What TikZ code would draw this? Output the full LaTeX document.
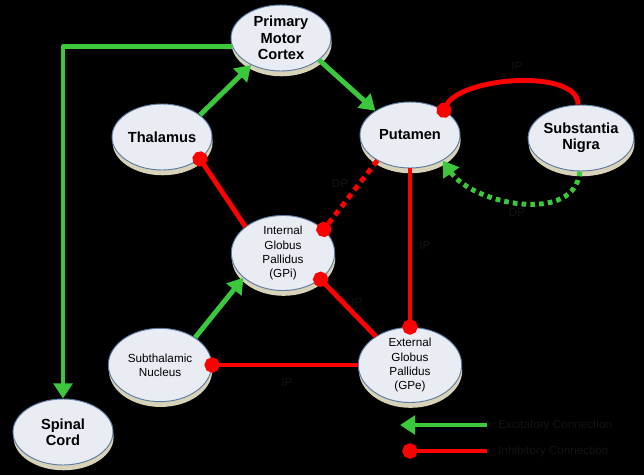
\documentclass[tikz,border=0pt]{standalone}
\usepackage{fontspec}
\setmainfont{Liberation Sans}
\usetikzlibrary{shapes.geometric,arrows.meta,shadows}
\definecolor{exgreen}{HTML}{3CC83C}
\definecolor{inred}{HTML}{FF0000}
\definecolor{nodefill}{HTML}{E9ECF2}
\definecolor{nodeline}{HTML}{5B7BA5}
\definecolor{nodebase}{HTML}{D8D3B8}
\definecolor{faint}{HTML}{141414}
\begin{document}
\begin{tikzpicture}[x=0.03cm, y=-0.03cm, line join=round,
  area/.style={ellipse, draw=nodeline, line width=0.8pt, fill=nodefill, inner sep=0pt, align=center, text=black,
    drop shadow={shadow xshift=0.5pt, shadow yshift=-4.5pt, fill=nodebase, opacity=1}},
  big/.style={area, minimum width=3cm, minimum height=1.98cm, font=\fontsize{12.5}{14}\selectfont\bfseries},
  small/.style={area, minimum width=3.1cm, minimum height=2.2cm, font=\fontsize{10}{12}\selectfont},
  excit/.style={draw=exgreen, line width=4.2pt, -{Triangle[length=13pt,width=16pt]}},
  inhib/.style={draw=inred, line width=4.2pt, -{Circle[length=13pt]}, shorten >=-6.5pt},
  tag/.style={text=faint, font=\fontsize{10}{12}\selectfont}]
\path[use as bounding box, fill=black] (0,0) rectangle (644,475);
% areas
\node[big] (pmc) at (281,38) {Primary\\Motor\\Cortex};
\node[big] (thal) at (162,137) {Thalamus};
\node[big] (put) at (410,135) {Putamen};
\node[big] (sn) at (581,138) {Substantia\\Nigra};
\node[small] (gpi) at (283,253) {Internal\\Globus\\Pallidus\\(GPi)};
\node[small] (stn) at (160,365) {Subthalamic\\Nucleus};
\node[small] (gpe) at (410,365) {External\\Globus\\Pallidus\\(GPe)};
\node[big] (spc) at (63,432) {Spinal\\Cord};
% excitatory
\draw[excit] (pmc.190) -| (spc.north);
\draw[excit] (thal.30) -- (pmc.222);
\draw[excit] (pmc.-30) -- (put.145);
\draw[excit] (stn.38) -- (gpi.212);
\draw[excit, dash pattern=on 4pt off 3.5pt] (sn.268) to[out=-95, in=-55] (put.-38);
% inhibitory
\draw[inhib] (gpi.145) -- (thal.-30);
\draw[inhib, dash pattern=on 5pt off 4pt] (put.218) -- (gpi.30);
\draw[inhib] (gpe.140) -- (gpi.-35);
\draw[inhib] (put.south) -- (gpe.north);
\draw[inhib] (gpe.west) -- (stn.east);
\draw[inhib] (sn.95) to[out=90, in=65, looseness=0.7] (put.36);
% pathway tags
\node[tag] (tsn) at (517,66) {IP};
\node[tag] (tdp) at (517,212) {DP};
\node[tag] (tgpi) at (340,183) {DP};
\node[tag] (tput) at (425,245) {IP};
\node[tag] (tgpe) at (357,302) {IP};
\node[tag] (tstn) at (287,382) {IP};
% legend
\node[tag, anchor=west] (exlab) at (494,425) {Excitatory Connection};
\node[tag, anchor=west] (inlab) at (494,451) {Inhibitory Connection};
\coordinate (exend) at (400,425);
\coordinate (inend) at (410,451);
\draw[excit, shorten <=6pt] (exlab.west) -- (exend);
\draw[inhib, shorten <=6pt] (inlab.west) -- (inend);
\end{tikzpicture}
\end{document}
